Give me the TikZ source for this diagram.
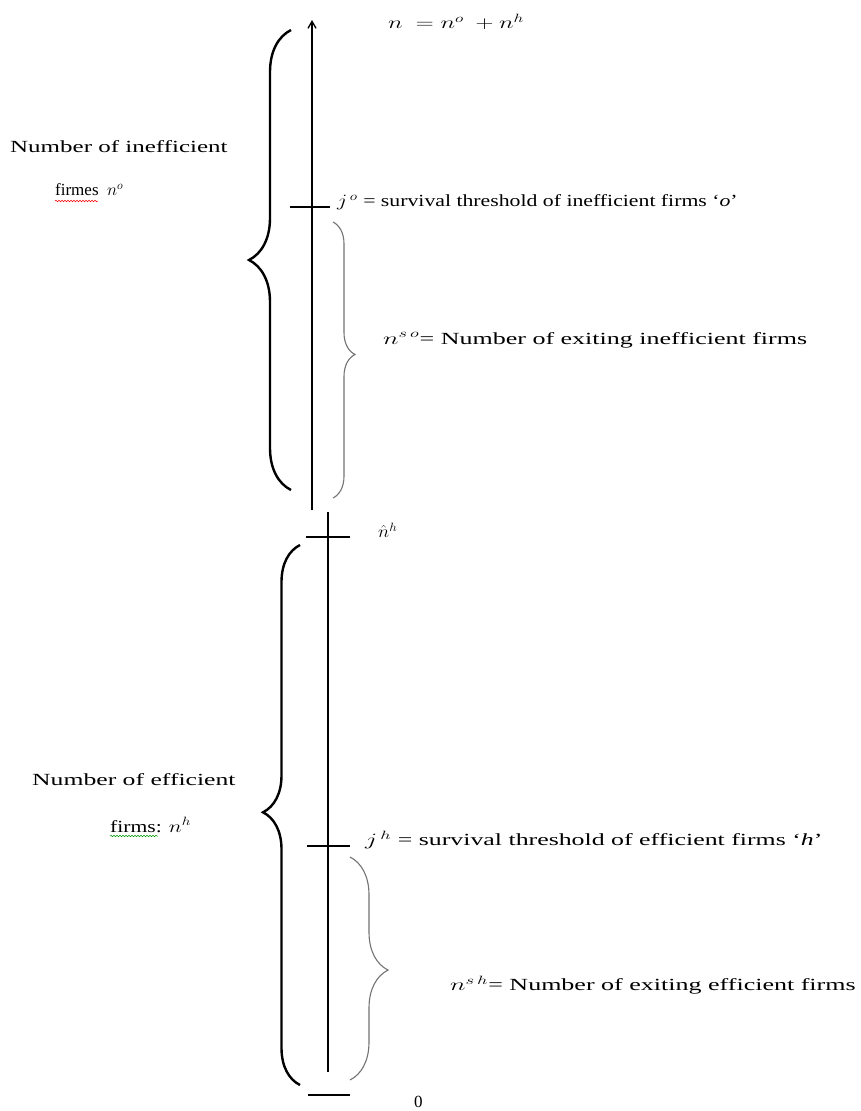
\documentclass[tikz,border=0pt]{standalone}
\usepackage{fontspec}
\usepackage{graphicx}
\setmainfont{Liberation Serif}
\usetikzlibrary{decorations.pathreplacing,decorations.pathmorphing,arrows.meta}
\newcommand{\widen}[2]{\scalebox{#1}[1]{#2}}
\begin{document}
\begin{tikzpicture}[x=1pt,y=-1pt,
  axis/.style={line width=1.3pt,black},
  tickline/.style={line width=1.2pt,black},
  bigbrace/.style={line width=2.4pt,black,decorate,decoration={brace,amplitude=42pt,aspect=0.5}},
  smallbrace/.style={line width=1.1pt,black!55,decorate,decoration={brace,amplitude=22pt}},
  lbl/.style={anchor=west,inner sep=0pt,font=\fontsize{17}{20}\selectfont},
  wavy/.style={line width=0.5pt,decorate,decoration={snake,amplitude=0.8pt,segment length=3pt}}]
\useasboundingbox[fill=white] (0,0) rectangle (860,1111);
% upper axis
\coordinate (ua0) at (312,510);
\coordinate (ua1) at (312,20);
\draw[axis,-{Straight Barb[length=7pt,width=8pt]}] (ua0) -- (ua1);
\coordinate (jo1) at (290,207); \coordinate (jo2) at (330,207);
\draw[tickline] (jo1) -- (jo2);
% lower axis
\coordinate (la0) at (328,512);
\coordinate (la1) at (328,1072);
\draw[axis] (la0) -- (la1);
\coordinate (nh1) at (306,537); \coordinate (nh2) at (350,537);
\draw[tickline] (nh1) -- (nh2);
\coordinate (jh1) at (307,846); \coordinate (jh2) at (350,846);
\draw[tickline] (jh1) -- (jh2);
\coordinate (z1) at (308,1095); \coordinate (z2) at (350,1095);
\draw[tickline] (z1) -- (z2);
% braces
\coordinate (b1s) at (291,490); \coordinate (b1e) at (291,30);
\draw[bigbrace] (b1s) -- (b1e);
\coordinate (b2s) at (300,1085); \coordinate (b2e) at (300,545);
\draw[bigbrace,decoration={amplitude=37pt,aspect=0.505}] (b2s) -- (b2e);
\coordinate (s1s) at (333,222); \coordinate (s1e) at (333,498);
\draw[smallbrace,decoration={aspect=0.48}] (s1s) -- (s1e);
\coordinate (s2s) at (350,857); \coordinate (s2e) at (350,1080);
\draw[smallbrace,decoration={amplitude=38pt,aspect=0.507}] (s2s) -- (s2e);
% labels
\node[lbl] (top) at (388,22) {\widen{1.44}{$n\ =n^{o}\ +n^{h}$}};
\node[lbl] (ineff1) at (10,147) {\widen{1.47}{Number of inefficient}};
\node[lbl] (ineff2) at (55,190) {firmes \ $n^{o}$};
\node[lbl] (jo) at (337,202) {\widen{1.28}{$j^{\,o}$ = survival threshold of inefficient firms `\textit{o}'}};
\node[lbl] (nso) at (383,340) {\widen{1.53}{$n^{s\,o}$= Number of exiting inefficient firms}};
\node[lbl] (nhat) at (378,530) {\widen{1.1}{$\hat{n}^{h}$}};
\node[lbl] (eff1) at (32,780) {\widen{1.51}{Number of efficient}};
\node[lbl] (eff2) at (110,825) {\widen{1.27}{firms: $n^{h}$}};
\node[lbl] (jh) at (365,840) {\widen{1.52}{$j^{\,h}$ = survival threshold of efficient firms `\textit{h}'}};
\node[lbl] (nsh) at (450,985) {\widen{1.53}{$n^{s\,h}$= Number of exiting efficient firms}};
\node[lbl] (zero) at (414,1102) {0};
% spell-check underlines
\coordinate (w1a) at (55,201); \coordinate (w1b) at (98,201);
\draw[wavy,red] (w1a) -- (w1b);
\coordinate (w2a) at (110,836); \coordinate (w2b) at (158,836);
\draw[wavy,green!60!black] (w2a) -- (w2b);
\end{tikzpicture}
\end{document}
